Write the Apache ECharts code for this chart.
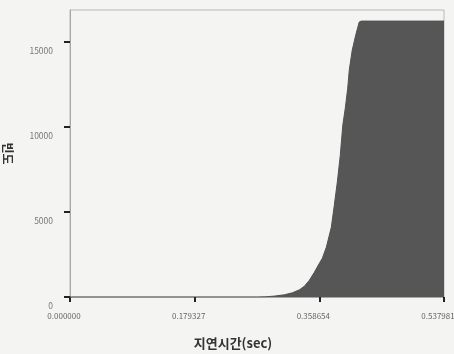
<!DOCTYPE html>
<html>
<head>
<meta charset="utf-8">
<script src="https://cdn.jsdelivr.net/npm/echarts@6/dist/echarts.min.js"></script>
<style>
html,body{margin:0;padding:0;background:#f4f4f2;}
#c{width:454px;height:354px;}
</style>
</head>
<body>
<div id="c"></div>
<script>
// Delay (sec) sample positions
const latency = [0.0000, 0.2700, 0.2812, 0.2941, 0.3084, 0.3199, 0.3300, 0.3371, 0.3443, 0.3515, 0.3587, 0.3630,
                 0.3687, 0.3759, 0.3802, 0.3845, 0.3888, 0.3924, 0.3960, 0.3995, 0.4017, 0.4060,
                 0.4110, 0.4160, 0.4189, 0.537981];
// Frequency (빈도) values
const frequency = [0, 0, 12, 53, 129, 247, 423, 629, 981, 1451, 1980, 2274,
                   2920, 4095, 5388, 6739, 8325, 10088, 11087, 12262, 13320, 14495,
                   15376, 16140, 16199, 16199];
const xTicks = [0, 0.179327, 0.358654, 0.537981];
const yTicks = [0, 5000, 10000, 15000];

const chart = echarts.init(document.getElementById('c'), null, {renderer: 'canvas'});
const fontFam = '"Noto Sans CJK KR", "DejaVu Sans", sans-serif';
chart.setOption({
  backgroundColor: '#f4f4f2',
  animation: false,
  grid: {left: 70, right: 10, top: 10, bottom: 57, show: true, borderColor: '#b8b8b8', borderWidth: 1,
         containLabel: false, outerBoundsMode: 'none'},
  xAxis: {
    type: 'value',
    min: xTicks[0], max: xTicks[xTicks.length - 1], interval: xTicks[1],
    name: '지연시간(sec)', nameLocation: 'middle', nameGap: 40,
    nameTextStyle: {fontFamily: fontFam, fontSize: 13, fontWeight: 'bold', color: '#333', padding: [0, 48, 0, 0]},
    axisLine: {show: true, lineStyle: {color: '#a8a8a8', width: 1}},
    axisTick: {show: true, length: 5, lineStyle: {color: '#222', width: 2}, customValues: xTicks},
    axisLabel: {
      fontFamily: fontFam, fontSize: 8, color: '#666', margin: 15, padding: [0, 12, 0, 0],
      customValues: xTicks,
      formatter: v => v.toFixed(6)
    },
    splitLine: {show: false}
  },
  yAxis: {
    type: 'value',
    min: 0, max: 16850, interval: yTicks[1],
    name: '빈도', nameLocation: 'middle', nameGap: 56, nameRotate: -90,
    nameTextStyle: {fontFamily: fontFam, fontSize: 12, fontWeight: 'bold', color: '#333'},
    axisLine: {show: true, lineStyle: {color: '#a8a8a8', width: 1}},
    axisTick: {show: true, length: 6, lineStyle: {color: '#222', width: 2}, customValues: yTicks},
    axisLabel: {
      fontFamily: fontFam, fontSize: 8.5, color: '#777', margin: 17,
      verticalAlign: 'top', padding: [5, 0, 0, 0],
      customValues: yTicks,
      formatter: v => String(v)
    },
    splitLine: {show: false}
  },
  series: [{
    type: 'line',
    data: latency.map((x, i) => [x, frequency[i]]),
    symbol: 'none',
    lineStyle: {color: '#525252', width: 1},
    areaStyle: {color: '#565656', opacity: 1}
  }]
});
</script>
</body>
</html>
